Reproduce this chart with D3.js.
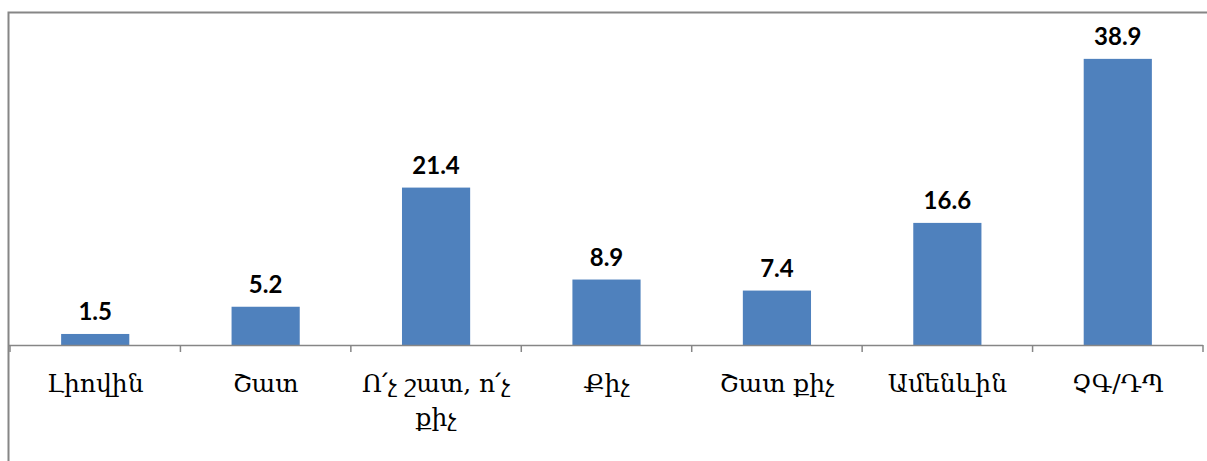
<!DOCTYPE html>
<html><head><meta charset="utf-8">
<script src="https://cdn.jsdelivr.net/npm/d3@7"></script>
<style>body{margin:0;background:#fff;}svg{display:block;}</style>
</head><body>
<svg id="c" width="1207" height="461"></svg>
<script>
const categories = ["Լիովին", "Շատ", "Ո՛չ շատ, ո՛չ քիչ", "Քիչ", "Շատ քիչ", "Ամենևին", "ՉԳ/ԴՊ"];
const values = [1.5, 5.2, 21.4, 8.9, 7.4, 16.6, 38.9];

const svg = d3.select("#c");
const W = 1207, H = 461;
const m = {left: 10, right: 4, top: 14, bottom: 116};
const x = d3.scaleBand().domain(categories).range([m.left, W - m.right]).paddingInner(0.6).paddingOuter(0.3);
const y = d3.scaleLinear().domain([0, 45]).range([H - m.bottom, m.top]);

// frame
svg.append("path").attr("d", `M8.5,${H+2} V12.5 H${W+2}`).attr("fill", "none").attr("stroke", "#868686").attr("stroke-width", 2);

// bars
svg.selectAll("rect.bar").data(values).join("rect").attr("class", "bar")
  .attr("x", (d, i) => x(categories[i])).attr("width", x.bandwidth())
  .attr("y", d => y(d)).attr("height", d => y(0) - y(d))
  .attr("fill", "#4F81BD");

// axis
const step = x.step();
const ax = svg.append("g").attr("transform", `translate(0,${y(0)})`);
ax.append("line").attr("x1", m.left - 2).attr("x2", W - m.right).attr("y1", 0.5).attr("y2", 0.5).attr("stroke", "#868686").attr("stroke-width", 1.5);
const tickPos = d3.range(categories.length + 1).map(i => x.range()[0] + i * (x.range()[1] - x.range()[0]) / categories.length);
ax.selectAll("line.t").data(tickPos).join("line").attr("class", "t")
  .attr("x1", d => d).attr("x2", d => d).attr("y1", 0).attr("y2", 7)
  .attr("stroke", "#868686").attr("stroke-width", 1.5);

// value labels
svg.selectAll("text.v").data(values).join("text").attr("class", "v")
  .attr("x", (d, i) => x(categories[i]) + x.bandwidth() / 2)
  .attr("y", d => y(d) - 14)
  .attr("text-anchor", "middle")
  .attr("font-family", "Lato, 'Open Sans', sans-serif").attr("font-weight", "bold").attr("font-size", 24)
  .attr("fill", "#000")
  .text(d => d.toFixed(1));

// category labels with wrapping
const maxW = step - 6;
categories.forEach((c, i) => {
  const t = svg.append("text")
    .attr("x", x(c) + x.bandwidth() / 2).attr("y", y(0) + 47)
    .attr("text-anchor", "middle")
    .attr("font-family", "'DejaVu Serif', serif").attr("font-size", 25).attr("fill", "#000");
  const words = c.split(" ");
  let line = [];
  let ts = t.append("tspan").attr("x", x(c) + x.bandwidth() / 2).attr("dy", 0);
  words.forEach(w => {
    line.push(w);
    ts.text(line.join(" "));
    if (ts.node().getComputedTextLength() > maxW && line.length > 1) {
      line.pop();
      ts.text(line.join(" "));
      line = [w];
      ts = t.append("tspan").attr("x", x(c) + x.bandwidth() / 2).attr("dy", 34).text(w);
    }
  });
});
</script>
</body></html>
